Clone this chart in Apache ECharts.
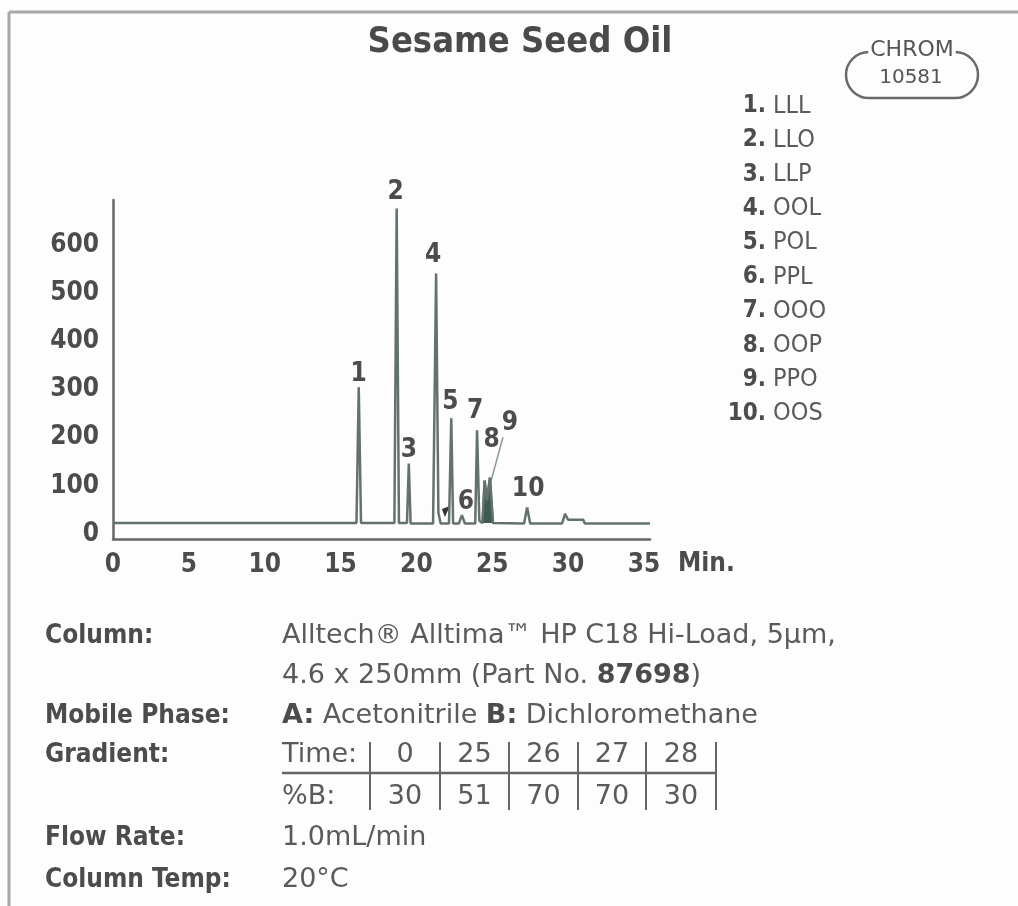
<!DOCTYPE html>
<html><head><meta charset="utf-8">
<script src="https://cdn.jsdelivr.net/npm/echarts@6/dist/echarts.min.js"></script>
<style>html,body{margin:0;padding:0;background:#fff}#c{width:1018px;height:906px}</style>
</head><body><div id="c"></div>
<script>
// ---------- data ----------
const chartTitle = 'Sesame Seed Oil';
const chromId = ['CHROM', '10581'];
const traceTime   = [0, 16.05, 16.2, 16.35, 18.55, 18.7, 18.85, 19.38, 19.5, 19.62, 21.1, 21.3, 21.45, 21.6, 22.15, 22.3, 22.42, 22.8, 23.0, 23.2, 23.88, 24.0, 24.15, 24.35, 24.5, 24.65, 24.85, 25.05, 27.1, 27.3, 27.5, 29.6, 29.8, 30.0, 31.0, 31.1, 35.4];
const traceSignal = [23, 23, 305, 23, 23, 676, 23, 23, 147, 22, 22, 541, 45, 22, 22, 241, 22, 22, 40, 22, 22, 216, 28, 23, 112, 70, 118, 23, 22, 56, 22, 22, 42, 30, 30, 22, 22];
const overlapTime   = [24.35, 24.5, 24.65, 24.85, 25.05];
const overlapSignal = [23, 112, 70, 118, 23];
const peakNumbers = ['1', '2', '3', '4', '5', '6', '7', '8', '9', '10'];
const peakNames   = ['LLL', 'LLO', 'LLP', 'OOL', 'POL', 'PPL', 'OOO', 'OOP', 'PPO', 'OOS'];
const peakTimes   = [16.2, 18.7, 19.5, 21.3, 22.3, 23.0, 24.0, 24.5, 24.85, 27.3];
const peakHeights = [305, 676, 147, 541, 241, 40, 216, 112, 118, 56];
const xTickValues = [0, 5, 10, 15, 20, 25, 30, 35];
const yTickValues = [0, 100, 200, 300, 400, 500, 600];
const xUnit = 'Min.';
const gradientTime = ['0', '25', '26', '27', '28'];
const gradientB    = ['30', '51', '70', '70', '30'];
const conditionLabels = ['Column:', 'Mobile Phase:', 'Gradient:', 'Flow Rate:', 'Column Temp:'];
const columnText = ['Alltech\u00AE Alltima\u2122 HP C18 Hi-Load, 5\u00B5m,', '4.6 x 250mm (Part No. {b|87698})'];
const mobileText = '{b|A:} Acetonitrile {b|B:} Dichloromethane';
const flowText = '1.0mL/min';
const tempText = '20\u00B0C';

// ---------- style ----------
const FONT = '"DejaVu Sans Condensed", "DejaVu Sans", sans-serif';
const FONTW = '"DejaVu Sans", sans-serif';
const TXT = '#4c4c4c';
const VAL = '#5a5a5a';
const LINE = '#62726d';
const labelOffsets = [[0,-13],[-1,-16],[0,-13],[-3,-18],[-1,-16],[4,-13],[-2,-19],[7,-40],[20,-54],[1,-18]];

const chart = echarts.init(document.getElementById('c'));
const gridLeft = 113, gridTop = 200, gridRight = 1018 - 650, gridBottom = 906 - 539;

const graphics = [];
// frame
graphics.push({type:'line', shape:{x1:9,y1:12,x2:1018,y2:12}, style:{stroke:'#a8a8a8', lineWidth:3}});
graphics.push({type:'line', shape:{x1:9,y1:12,x2:9,y2:906}, style:{stroke:'#a8a8a8', lineWidth:3}});
// title
graphics.push({type:'text', x:520, y:43, style:{text:chartTitle, font:'bold 36px ' + FONT, fill:'#4a4a4a', align:'center', verticalAlign:'middle'}});
// badge
graphics.push({type:'rect', shape:{x:846, y:52, width:132, height:46, r:23}, style:{fill:'none', stroke:'#6a6a6a', lineWidth:2.5}});
graphics.push({type:'text', x:912, y:50, style:{text:chromId[0], font:'22px ' + FONTW, fill:'#555', align:'center', verticalAlign:'middle', backgroundColor:'#fdfdfd', padding:[0,2]}});
graphics.push({type:'text', x:911, y:78, style:{text:chromId[1], font:'20px ' + FONTW, fill:'#555', align:'center', verticalAlign:'middle'}});
// peak legend
peakNames.forEach((n, i) => {
  const y = 106 + i * 34.2;
  graphics.push({type:'text', x:766, y:y, style:{text:peakNumbers[i] + '.', font:'bold 24px ' + FONT, fill:TXT, align:'right', verticalAlign:'middle'}});
  graphics.push({type:'text', x:773, y:y, style:{text:n, font:'25px ' + FONT, fill:VAL, align:'left', verticalAlign:'middle'}});
});
// x unit
graphics.push({type:'text', x:678, y:564, style:{text:xUnit, font:'bold 26px ' + FONT, fill:TXT, align:'left', verticalAlign:'middle'}});
// conditions
const rowY = [636, 716, 755, 838, 880];
conditionLabels.forEach((t, i) => {
  graphics.push({type:'text', x:45, y:rowY[i], style:{text:t, font:'bold 26px ' + FONT, fill:TXT, align:'left', verticalAlign:'middle'}});
});
const valFont = '27px ' + FONTW;
const rich = {b:{font:'bold 27px ' + FONTW, fill:TXT}};
graphics.push({type:'text', x:282, y:636, style:{text:columnText[0], font:valFont, fill:VAL, align:'left', verticalAlign:'middle'}});
graphics.push({type:'text', x:282, y:676, style:{text:columnText[1], font:valFont, fill:VAL, align:'left', verticalAlign:'middle', rich:rich}});
graphics.push({type:'text', x:282, y:716, style:{text:mobileText, font:valFont, fill:VAL, align:'left', verticalAlign:'middle', rich:rich}});
graphics.push({type:'text', x:282, y:838, style:{text:flowText, font:valFont, fill:VAL, align:'left', verticalAlign:'middle'}});
graphics.push({type:'text', x:282, y:880, style:{text:tempText, font:valFont, fill:VAL, align:'left', verticalAlign:'middle'}});
// gradient table
graphics.push({type:'text', x:282, y:755, style:{text:'Time:', font:valFont, fill:VAL, align:'left', verticalAlign:'middle'}});
graphics.push({type:'text', x:282, y:797, style:{text:'%B:', font:valFont, fill:VAL, align:'left', verticalAlign:'middle'}});
const sepX = [370, 440, 509, 578, 646, 716];
graphics.push({type:'line', shape:{x1:282,y1:773,x2:716,y2:773}, style:{stroke:'#666', lineWidth:2.5}});
sepX.forEach(x => graphics.push({type:'line', shape:{x1:x,y1:742,x2:x,y2:810}, style:{stroke:'#666', lineWidth:2}}));
gradientTime.forEach((t, i) => {
  const cx = (sepX[i] + sepX[i+1]) / 2;
  graphics.push({type:'text', x:cx, y:755, style:{text:t, font:valFont, fill:VAL, align:'center', verticalAlign:'middle'}});
  graphics.push({type:'text', x:cx, y:797, style:{text:gradientB[i], font:valFont, fill:VAL, align:'center', verticalAlign:'middle'}});
});

const option = {
  backgroundColor: '#fdfdfd',
  animation: false,
  grid: {left: gridLeft, top: gridTop, right: gridRight, bottom: gridBottom, containLabel: false},
  xAxis: {
    type: 'value', min: 0, max: 35.4,
    axisLine: {show: true, onZero: false, lineStyle: {color: '#666', width: 2.5}},
    axisTick: {show: false}, splitLine: {show: false},
    axisLabel: {customValues: xTickValues, margin: 13, fontSize: 26, fontWeight: 'bold', color: TXT, fontFamily: FONT}
  },
  yAxis: {
    type: 'value', min: -10, max: 693,
    axisLine: {show: true, lineStyle: {color: '#666', width: 2.5}},
    axisTick: {show: false}, splitLine: {show: false},
    axisLabel: {customValues: yTickValues, margin: 14, fontSize: 26, fontWeight: 'bold', color: TXT, fontFamily: FONT}
  },
  series: [
    {type: 'line', data: traceTime.map((t, i) => [t, traceSignal[i]]), symbol: 'none', lineStyle: {color: LINE, width: 2.5}, z: 3},
    {type: 'line', data: overlapTime.map((t, i) => [t, overlapSignal[i]]), symbol: 'none', lineStyle: {color: '#3e5a52', width: 2}, areaStyle: {color: '#3e5a52', origin: 23, opacity: 1}, z: 2},
    {type: 'scatter', data: peakTimes.map((t, i) => ({value: [t, peakHeights[i]], label: {offset: labelOffsets[i]}})),
     symbolSize: 1, itemStyle: {color: '#fdfdfd', opacity: 1}, z: 5,
     label: {show: true, position: 'inside', formatter: p => peakNumbers[p.dataIndex], fontSize: 26, fontWeight: 'bold', color: TXT, opacity: 1, textBorderWidth: 0, fontFamily: FONT}}
  ],
  graphic: graphics
};
chart.setOption(option);

// leader line for peak 9 and arrow for peak 6 (placed relative to the peaks' pixel positions)
const p9 = chart.convertToPixel({gridIndex: 0}, [peakTimes[8], peakHeights[8]]);
const p6 = chart.convertToPixel({gridIndex: 0}, [peakTimes[5], peakHeights[5]]);
graphics.push({type:'line', shape:{x1:p9[0]+1, y1:p9[1]+4, x2:p9[0]+13, y2:p9[1]-40}, style:{stroke:'#8a9a94', lineWidth:1.5}});
graphics.push({type:'polygon', shape:{points:[[p6[0]-20,p6[1]-6],[p6[0]-12,p6[1]-9],[p6[0]-17,p6[1]+2]]}, style:{fill:'#333'}});
chart.setOption({graphic: graphics});
</script>
</body></html>
